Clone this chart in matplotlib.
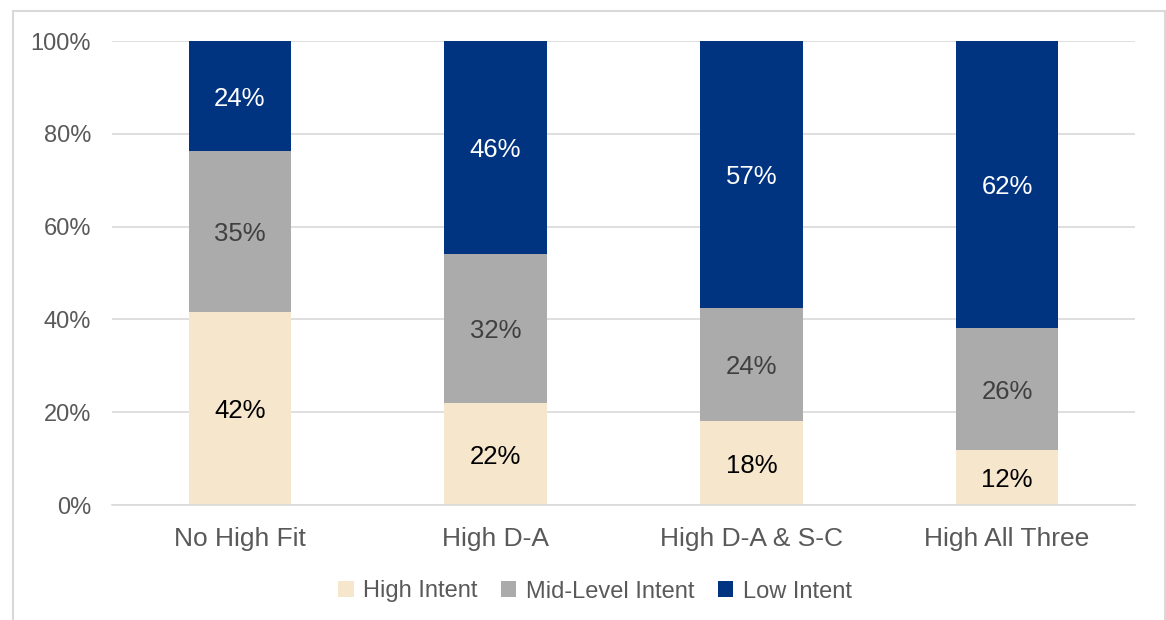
import matplotlib
matplotlib.use("Agg")
import matplotlib.pyplot as plt
from matplotlib.patches import Rectangle
import numpy as np

categories = ["No High Fit", "High D-A", "High D-A & S-C", "High All Three"]
high_intent = [41.6, 22.0, 18.1, 11.9]
mid_intent = [34.7, 32.1, 24.4, 26.2]
low_intent = [23.7, 45.9, 57.5, 61.9]
high_labels = ["42%", "22%", "18%", "12%"]
mid_labels = ["35%", "32%", "24%", "26%"]
low_labels = ["24%", "46%", "57%", "62%"]
series_names = ["High Intent", "Mid-Level Intent", "Low Intent"]
yticks = [0, 20, 40, 60, 80, 100]
ytick_labels = ["0%", "20%", "40%", "60%", "80%", "100%"]

c_high = "#F5E6CC"
c_mid = "#ABABAB"
c_low = "#003380"
txt = "#595959"

plt.rcParams["font.family"] = ["Liberation Sans", "DejaVu Sans"]

fig = plt.figure(figsize=(11.66, 6.2), dpi=100)
ax = fig.add_axes([112 / 1166, 1 - 505 / 620, (1135 - 112) / 1166, (505 - 41) / 620])

x = np.arange(len(categories))
w = 0.4
b1 = ax.bar(x, high_intent, w, color=c_high, label=series_names[0], zorder=2)
b2 = ax.bar(x, mid_intent, w, bottom=high_intent, color=c_mid, label=series_names[1], zorder=2)
bottom3 = np.array(high_intent) + np.array(mid_intent)
b3 = ax.bar(x, low_intent, w, bottom=bottom3, color=c_low, label=series_names[2], zorder=2)

for bars, labels, col in [(b1, high_labels, "#000000"), (b2, mid_labels, "#404040"),
                          (b3, low_labels, "#FFFFFF")]:
    for rect, lab in zip(bars, labels):
        cx = rect.get_x() + rect.get_width() / 2
        cy = rect.get_y() + rect.get_height() / 2
        ax.annotate(lab, (cx, cy), xytext=(0, -2), textcoords="offset points",
                    ha="center", va="center", color=col, fontsize=18.5, zorder=3)

ax.set_xlim(-0.5, len(categories) - 0.5)
ax.set_ylim(0, 100)
ax.set_yticks(yticks)
ax.set_yticklabels(ytick_labels)
ax.set_xticks(x)
ax.set_xticklabels(categories)
ax.tick_params(axis="y", length=0, pad=15, labelsize=17, labelcolor=txt)
ax.tick_params(axis="x", length=0, pad=15.5, labelsize=19, labelcolor=txt)
ax.grid(axis="y", color="#D9D9D9", linewidth=1.2, zorder=0)
for s in ["top", "right", "left"]:
    ax.spines[s].set_visible(False)
ax.spines["bottom"].set_color("#D9D9D9")
ax.spines["bottom"].set_linewidth(1.2)

leg = fig.legend(handles=[b1, b2, b3], labels=series_names, loc="center",
                 bbox_to_anchor=(595 / 1166, 1 - 591.5 / 620), ncol=3, frameon=False,
                 fontsize=17, handlelength=0.65, handleheight=0.65, handletextpad=0.4,
                 columnspacing=1.0)
for t in leg.get_texts():
    t.set_color(txt)

fig.patches.append(Rectangle((13 / 1166, -0.05), (1165 - 13) / 1166, 1.05 - 11 / 620,
                             transform=fig.transFigure, fill=False,
                             edgecolor="#D9D9D9", linewidth=1.5))

fig.savefig("out.png", dpi=100)
